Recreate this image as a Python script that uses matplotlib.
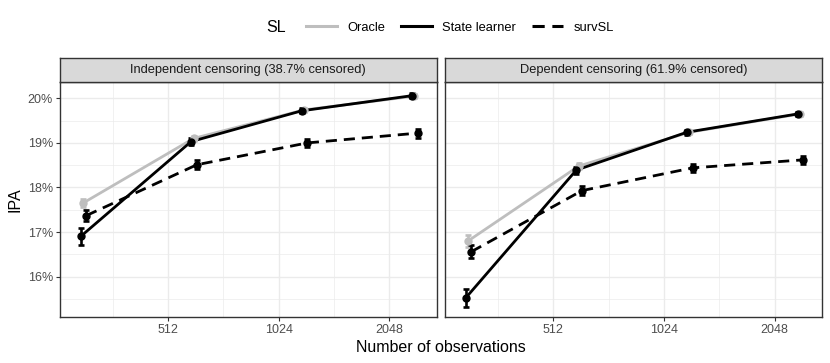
import numpy as np
import matplotlib
matplotlib.use("Agg")
import matplotlib.pyplot as plt
from matplotlib.lines import Line2D
from matplotlib.ticker import FixedLocator

plt.rcParams["font.family"] = ["Liberation Sans", "DejaVu Sans"]

# data (IPA in %)
n_obs = [300, 600, 1200, 2400]
panels = ["Independent censoring (38.7% censored)", "Dependent censoring (61.9% censored)"]

ipa_indep = {
    "Oracle":        [17.65, 19.10, 19.74, 20.05],
    "State learner": [16.90, 19.03, 19.72, 20.06],
    "survSL":        [17.37, 18.51, 19.00, 19.22],
}
se_indep = {
    "Oracle":        [0.09, 0.06, 0.05, 0.05],
    "State learner": [0.20, 0.08, 0.06, 0.05],
    "survSL":        [0.13, 0.10, 0.09, 0.10],
}
ipa_dep = {
    "Oracle":        [16.80, 18.48, 19.24, 19.65],
    "State learner": [15.52, 18.39, 19.24, 19.65],
    "survSL":        [16.56, 17.93, 18.44, 18.62],
}
se_dep = {
    "Oracle":        [0.13, 0.07, 0.05, 0.05],
    "State learner": [0.20, 0.08, 0.06, 0.05],
    "survSL":        [0.15, 0.10, 0.09, 0.09],
}

styles = {
    "Oracle":        dict(color="#BEBEBE", ls="-"),
    "State learner": dict(color="black", ls="-"),
    "survSL":        dict(color="black", ls=(0, (4, 2.5))),
}
dodge = {"State learner": -0.022, "Oracle": 0.0, "survSL": 0.03}  # log2 units
draw_order = ["Oracle", "survSL", "State learner"]

fig = plt.figure(figsize=(8.3, 3.63), dpi=100)
W, H = 830, 363
panel_px = [(60, 436.7), (445, 822.3)]
top_px, bot_px, strip_top = 82.3, 316.7, 58

for (x0, x1), title, ipa, se in zip(panel_px, panels, [ipa_indep, ipa_dep], [se_indep, se_dep]):
    ax = fig.add_axes([x0 / W, 1 - bot_px / H, (x1 - x0) / W, (bot_px - top_px) / H])
    for m in draw_order:
        xs = np.log2(n_obs) + dodge[m]
        st = styles[m]
        ax.plot(xs, ipa[m], color=st["color"], ls=st["ls"], lw=2.0, zorder=3)
        ax.errorbar(xs, ipa[m], yerr=se[m], fmt="o", color=st["color"], ms=5,
                    elinewidth=1.9, capsize=2.2, capthick=1.9, zorder=4)
    ax.set_xlim(8.02, 11.43)
    ax.set_ylim(15.10, 20.36)
    ax.set_xticks([9, 10, 11])
    ax.set_xticklabels(["512", "1024", "2048"])
    ax.xaxis.set_minor_locator(FixedLocator([8.5, 9.5, 10.5]))
    ax.set_yticks([16, 17, 18, 19, 20])
    ax.yaxis.set_minor_locator(FixedLocator([15.5, 16.5, 17.5, 18.5, 19.5]))
    if x0 < 100:
        ax.set_yticklabels([f"{v}%" for v in [16, 17, 18, 19, 20]])
        ax.set_ylabel("IPA", fontsize=11.5, labelpad=4)
    else:
        ax.tick_params(axis="y", which="both", left=False, labelleft=False)
    ax.grid(True, which="major", color="#EBEBEB", lw=1.0, zorder=0)
    ax.grid(True, which="minor", color="#EBEBEB", lw=0.5, zorder=0)
    ax.set_axisbelow(True)
    ax.tick_params(axis="both", which="major", length=3, width=0.8, color="#333333",
                   labelcolor="#4D4D4D", labelsize=9, pad=2)
    ax.tick_params(axis="both", which="minor", length=0)
    for s in ax.spines.values():
        s.set_color("#333333")
        s.set_linewidth(1.0)

    # facet strip
    sax = fig.add_axes([x0 / W, 1 - top_px / H, (x1 - x0) / W, (top_px - strip_top) / H])
    sax.set_facecolor("#D9D9D9")
    sax.set_xticks([])
    sax.set_yticks([])
    for s in sax.spines.values():
        s.set_color("#333333")
        s.set_linewidth(1.0)
    sax.text(0.5, 0.5, title, ha="center", va="center", fontsize=9.3, color="#1A1A1A",
             transform=sax.transAxes)

fig.text((60 + 822.3) / 2 / W, 1 - 348 / H, "Number of observations", ha="center",
         va="center", fontsize=11.5)

handles = [Line2D([], [], color=styles[m]["color"], ls=styles[m]["ls"], lw=2.2)
           for m in ["Oracle", "State learner", "survSL"]]
fig.legend(handles, ["Oracle", "State learner", "survSL"], loc="center",
           bbox_to_anchor=(460 / W, 1 - 28 / H), ncol=3, frameon=False, fontsize=9.3,
           handlelength=2.4, handletextpad=0.8, columnspacing=1.2)
fig.text(276 / W, 1 - 28 / H, "SL", ha="center", va="center", fontsize=11.5)

fig.savefig("out.png", dpi=100)
